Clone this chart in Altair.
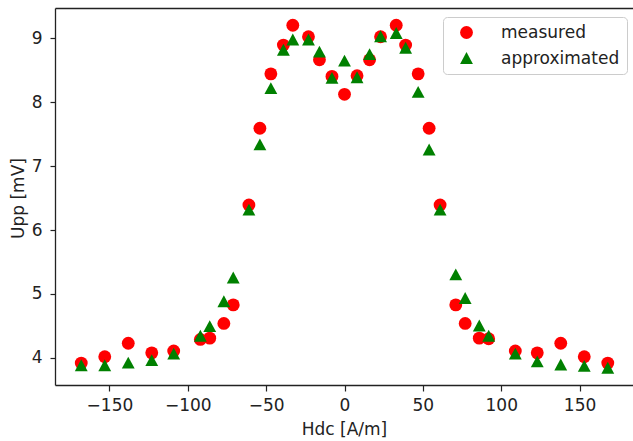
import altair as alt
import pandas as pd

# Field strength (A/m) at which each sample was taken
hdc = [-168, -153, -138, -123, -109, -92, -86, -77, -71, -61, -54, -47, -39, -33,
       -23, -16, -8, 0, 8, 16, 23, 33, 39, 47, 54, 61, 71, 77, 86, 92, 109, 123,
       138, 153, 168]

# Peak-to-peak voltage (mV)
measured = [3.92, 4.02, 4.23, 4.08, 4.11, 4.29, 4.31, 4.54, 4.83, 6.39, 7.59, 8.44,
            8.89, 9.20, 9.02, 8.66, 8.40, 8.12, 8.41, 8.66, 9.02, 9.20, 8.89, 8.44,
            7.59, 6.39, 4.83, 4.54, 4.31, 4.30, 4.11, 4.08, 4.23, 4.02, 3.92]
approximated = [3.88, 3.88, 3.92, 3.96, 4.06, 4.34, 4.49, 4.88, 5.25, 6.31, 7.33, 8.21,
                8.81, 8.97, 8.97, 8.78, 8.37, 8.64, 8.38, 8.74, 9.02, 9.07, 8.84, 8.15,
                7.25, 6.31, 5.30, 4.93, 4.50, 4.34, 4.06, 3.94, 3.89, 3.87, 3.84]

series_names = ["measured", "approximated"]
series_colors = ["#ff0000", "#008000"]
series_shapes = ["circle", "M0,-1L-1,0.85L1,0.85Z"]

x_ticks = [-150, -100, -50, 0, 50, 100, 150]
y_ticks = [4, 5, 6, 7, 8, 9]

n = len(hdc)
df = pd.DataFrame({
    "Hdc": hdc + hdc,
    "Upp": measured + approximated,
    "series": [series_names[0]] * n + [series_names[1]] * n,
    "order": [0] * n + [1] * n,
})

W, H = 578, 377
x_scale = alt.Scale(domain=[-184.75, 184.1], nice=False, zero=False)
y_scale = alt.Scale(domain=[3.578, 9.469], nice=False, zero=False)

y_axis = alt.Axis(title="Upp [mV]", values=y_ticks, format="d",
                  tickSize=5, labelPadding=8, titleX=-32, titleY=190,
                  titleBaseline="alphabetic")

points = alt.Chart(df).mark_point(filled=True, opacity=1, size=165, strokeWidth=0).encode(
    x=alt.X("Hdc:Q", scale=x_scale,
            axis=alt.Axis(title="Hdc [A/m]", values=x_ticks, format="d",
                          tickSize=6, labelPadding=6, titleY=49,
                          titleBaseline="alphabetic")),
    y=alt.Y("Upp:Q", scale=y_scale, axis=y_axis),
    color=alt.Color("series:N",
                    scale=alt.Scale(domain=series_names, range=series_colors),
                    legend=alt.Legend(title=None)),
    shape=alt.Shape("series:N",
                    scale=alt.Scale(domain=series_names, range=series_shapes),
                    legend=alt.Legend(title=None)),
    order=alt.Order("order:Q"),
)

# Top spine of the frame
frame_top = alt.Chart(df).mark_point(opacity=0).encode(
    x=alt.X("Hdc:Q", scale=x_scale,
            axis=alt.Axis(orient="top", labels=False, ticks=False, title=None,
                          domain=True, grid=False)),
    y=alt.Y("Upp:Q", scale=y_scale, axis=y_axis),
)

chart = alt.layer(points, frame_top).resolve_axis(x="independent").properties(
    width=W, height=H,
    autosize=alt.AutoSizeParams(type="none"),
    padding={"left": 55, "top": 8, "right": 0, "bottom": 56},
    background="white",
).configure_view(
    stroke=None,
).configure_axis(
    grid=False,
    domainColor="#222222",
    domainWidth=1.3,
    tickColor="#222222",
    tickWidth=1.2,
    labelFont="DejaVu Sans",
    labelFontSize=17,
    labelColor="#222222",
    titleFont="DejaVu Sans",
    titleFontSize=17,
    titleFontWeight="normal",
    titleColor="#222222",
    labelFlush=False,
    labelOverlap=False,
).configure_legend(
    orient="none",
    legendX=388,
    legendY=9,
    padding=7,
    symbolOffset=8,
    labelOffset=26,
    rowPadding=8,
    fillColor="rgba(255,255,255,0.85)",
    strokeColor="#cccccc",
    cornerRadius=4,
    labelFont="DejaVu Sans",
    labelFontSize=17,
    labelColor="#222222",
    symbolSize=165,
    symbolStrokeWidth=0,
    symbolOpacity=1,
)

chart.save("out.html", embed_options={"renderer": "svg", "actions": False})
